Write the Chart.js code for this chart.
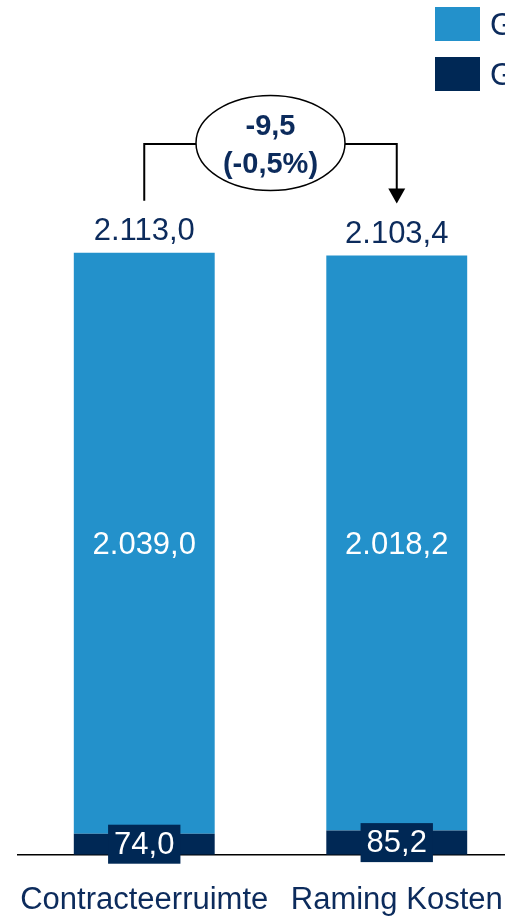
<!DOCTYPE html>
<html>
<head>
<meta charset="utf-8">
<script src="https://cdn.jsdelivr.net/npm/chart.js@4.4.1/dist/chart.umd.min.js"></script>
<style>
  html, body { margin: 0; padding: 0; overflow: hidden; background: #fff; }
  #wrap { position: relative; width: 530px; height: 946px; }
</style>
</head>
<body>
<div id="wrap"><canvas id="chart"></canvas></div>
<script>
const categories = ['Contracteerruimte', 'Raming Kosten'];
const seriesNames = ['Geneeskundige zorg', 'Geriatrische revalidatiezorg'];
const mainValues = [2039.0, 2018.2];
const smallValues = [74.0, 85.2];
const deltaLabel = ['-9,5', '(-0,5%)'];

const LIGHT = '#2391cb';
const DARK = '#002855';
const NAVY = '#0c2b5c';
const FONT = '"Liberation Sans", Arial, sans-serif';

function fmt(v) {
    let parts = v.toFixed(1).split('.');
    let int = parts[0].replace(/\B(?=(\d{3})+(?!\d))/g, '.');
    return int + ',' + parts[1];
}

const labelPlugin = {
    id: 'labels',
    afterDatasetsDraw(chart) {
        const ctx = chart.ctx;
        const small = chart.getDatasetMeta(0).data;
        const main = chart.getDatasetMeta(1).data;
        ctx.save();
        ctx.font = '31px ' + FONT;
        ctx.textAlign = 'center';
        ctx.textBaseline = 'middle';

        main.forEach((bar, i) => {
            ctx.fillStyle = NAVY;
            ctx.fillText(fmt(mainValues[i] + smallValues[i]), bar.x, bar.y - 21);
            ctx.fillStyle = '#fff';
            ctx.fillText(fmt(mainValues[i]), bar.x, (bar.y + bar.base) / 2 + 2);
        });

        small.forEach((bar, i) => {
            let txt = fmt(smallValues[i]);
            let w = ctx.measureText(txt).width + 12;
            let cy = (bar.y + bar.base) / 2;
            ctx.fillStyle = DARK;
            ctx.fillRect(bar.x - w / 2, cy - 19.5, w, 39);
            ctx.fillStyle = '#fff';
            ctx.fillText(txt, bar.x, cy + 1);
        });

        // change bracket between the two totals
        let x1 = main[0].x, x2 = main[1].x;
        let ex = (x1 + x2) / 2, ey = 143, rx = 74.5, ry = 47.5;
        let lineY = 144;
        ctx.strokeStyle = '#000';
        ctx.lineWidth = 2;
        ctx.beginPath();
        ctx.moveTo(x1, main[0].y - 52);
        ctx.lineTo(x1, lineY);
        ctx.lineTo(ex - rx, lineY);
        ctx.moveTo(ex + rx, lineY);
        ctx.lineTo(x2, lineY);
        ctx.lineTo(x2, main[1].y - 66);
        ctx.stroke();
        ctx.fillStyle = '#000';
        ctx.beginPath();
        ctx.moveTo(x2 - 8.5, main[1].y - 67);
        ctx.lineTo(x2 + 8.5, main[1].y - 67);
        ctx.lineTo(x2, main[1].y - 52);
        ctx.closePath();
        ctx.fill();

        ctx.beginPath();
        ctx.ellipse(ex, ey, rx, ry, 0, 0, Math.PI * 2);
        ctx.fillStyle = '#fff';
        ctx.fill();
        ctx.lineWidth = 1.5;
        ctx.stroke();
        ctx.font = 'bold 29px ' + FONT;
        ctx.fillStyle = NAVY;
        ctx.fillText(deltaLabel[0], ex, 127);
        ctx.fillText(deltaLabel[1], ex, 165);

        // legend, top right
        const items = [[seriesNames[0], LIGHT], [seriesNames[1], DARK]];
        ctx.font = '31px ' + FONT;
        ctx.textAlign = 'left';
        items.forEach((it, i) => {
            let y = 7 + i * 50;
            ctx.fillStyle = it[1];
            ctx.fillRect(435, y, 45, 34);
            ctx.fillStyle = NAVY;
            ctx.fillText(it[0], 490, y + 19);
        });
        ctx.restore();
    }
};

new Chart(document.getElementById('chart'), {
    type: 'bar',
    data: {
        labels: categories,
        datasets: [
            { label: seriesNames[1], data: smallValues, backgroundColor: DARK },
            { label: seriesNames[0], data: mainValues, backgroundColor: LIGHT }
        ]
    },
    options: {
        responsive: true,
        maintainAspectRatio: false,
        animation: false,
        layout: { padding: { left: 18, right: 7, top: 0, bottom: 0 } },
        datasets: { bar: { categoryPercentage: 1, barPercentage: 0.558 } },
        plugins: {
            legend: { display: false },
            tooltip: { enabled: false }
        },
        scales: {
            x: {
                stacked: true,
                grid: { display: false, drawTicks: false },
                border: { display: true, color: '#000', width: 1.5 },
                ticks: {
                    padding: 3, maxRotation: 0, minRotation: 0, autoSkip: false,
                    color: NAVY, font: { family: FONT, size: 31, lineHeight: 2.75 }
                }
            },
            y: { stacked: true, display: false, min: 0, max: 3000 }
        }
    },
    plugins: [labelPlugin]
});
</script>
</body>
</html>
